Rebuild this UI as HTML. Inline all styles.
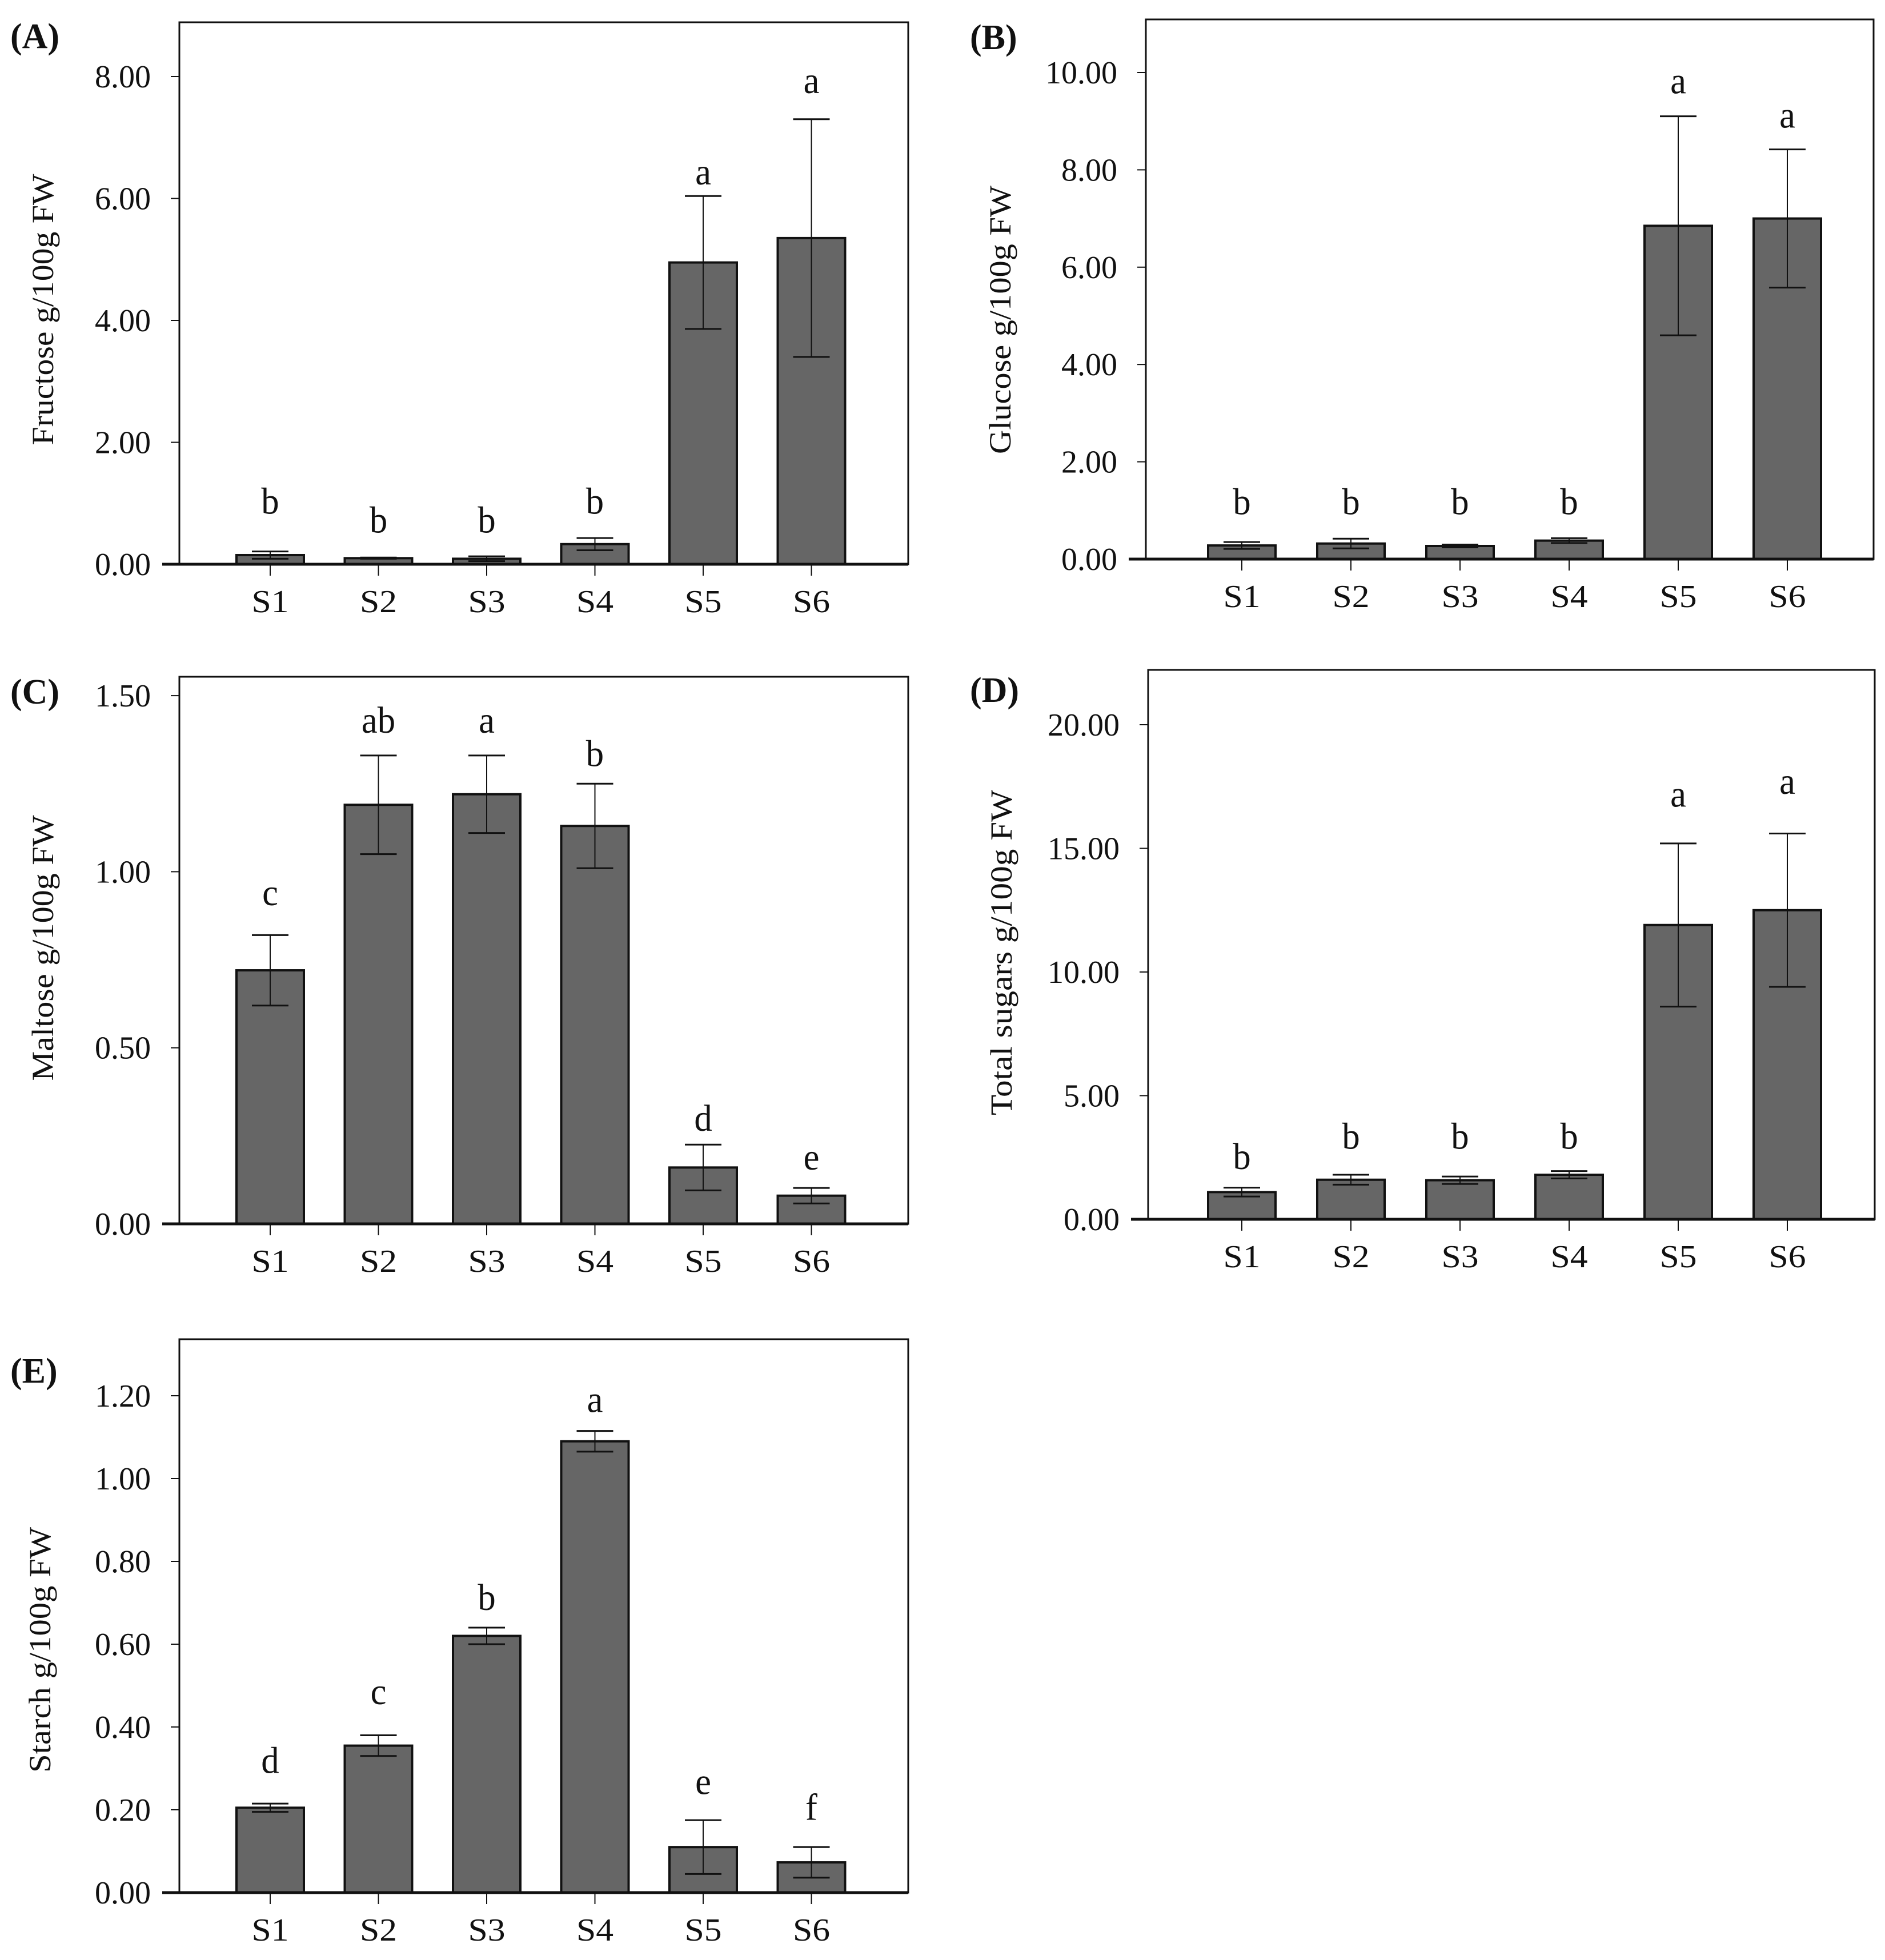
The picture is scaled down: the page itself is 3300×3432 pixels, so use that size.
<!DOCTYPE html>
<html><head><meta charset="utf-8"><style>
html,body{margin:0;padding:0;background:#fff;}
svg{display:block;}
text{font-family:"Liberation Serif","Times New Roman",serif;fill:#111;}
</style></head><body>
<svg id="fig" width="3300" height="3432" viewBox="0 0 3300 3432" xmlns="http://www.w3.org/2000/svg"></svg>
<script>
const categories = ["S1","S2","S3","S4","S5","S6"];

const fructoseVals = [0.15,0.10,0.09,0.33,4.95,5.35];
const fructoseErr  = [0.06,0.01,0.04,0.10,1.09,1.95];
const fructoseLet  = ["b","b","b","b","a","a"];
const fructoseLetY = [0.83,0.52,0.52,0.83,6.23,7.73];
const fructoseTicks = [0,2,4,6,8];

const glucoseVals = [0.28,0.32,0.27,0.38,6.85,7.00];
const glucoseErr  = [0.07,0.10,0.03,0.05,2.25,1.42];
const glucoseLet  = ["b","b","b","b","a","a"];
const glucoseLetY = [0.92,0.92,0.92,0.92,9.57,8.87];
const glucoseTicks = [0,2,4,6,8,10];

const maltoseVals = [0.72,1.19,1.22,1.13,0.16,0.08];
const maltoseErr  = [0.10,0.14,0.11,0.12,0.065,0.022];
const maltoseLet  = ["c","ab","a","b","d","e"];
const maltoseLetY = [0.905,1.395,1.395,1.30,0.264,0.154];
const maltoseTicks = [0,0.5,1.0,1.5];

const totalVals = [1.10,1.60,1.58,1.80,11.9,12.5];
const totalErr  = [0.18,0.20,0.15,0.15,3.3,3.1];
const totalLet  = ["b","b","b","b","a","a"];
const totalLetY = [2.03,2.85,2.85,2.85,16.68,17.2];
const totalTicks = [0,5,10,15,20];

const starchVals = [0.205,0.355,0.62,1.09,0.11,0.073];
const starchErr  = [0.010,0.025,0.020,0.025,0.065,0.037];
const starchLet  = ["d","c","b","a","e","f"];
const starchLetY = [0.289,0.455,0.683,1.161,0.238,0.176];
const starchTicks = [0,0.2,0.4,0.6,0.8,1.0,1.2];

const NS="http://www.w3.org/2000/svg";
const svg=document.getElementById('fig');
function mk(tag,attrs,parent){const e=document.createElementNS(NS,tag);for(const k in attrs)e.setAttribute(k,attrs[k]);(parent||svg).appendChild(e);return e;}
function sx(x,s){return 'translate('+x+',0) scale('+s+',1) translate('+(-x)+',0)';}

function panel(p){
  const g=mk('g',{});
  
  
  const y=v=>p.axisY-v/p.tickVal*p.tickPx;
  const x=i=>p.x0+i*p.step;
  const fr=mk('rect',{x:p.left,y:p.top,width:p.right-p.left,height:p.axisY-p.top,fill:'none',stroke:'#111','stroke-width':3},g);
  
  
  p.vals.forEach((v,i)=>{
    const b=mk('rect',{x:x(i)-59,y:y(v),width:118,height:p.axisY-y(v),fill:'#666',stroke:'#111','stroke-width':4},g);
    
    
    const e=p.err[i];
    const eg=mk('g',{stroke:'#111'},g);
    
    
    mk('line',{x1:x(i),x2:x(i),y1:y(v+e),y2:y(v-e),'stroke-width':2},eg);
    mk('line',{x1:x(i)-32,x2:x(i)+32,y1:y(v+e),y2:y(v+e),'stroke-width':3},eg);
    mk('line',{x1:x(i)-32,x2:x(i)+32,y1:y(v-e),y2:y(v-e),'stroke-width':3},eg);
    const t=mk('text',{x:x(i),y:y(p.letY[i]),'text-anchor':'middle','font-size':66,transform:sx(x(i),0.95)},g);
    t.textContent=p.lets[i];
    
    
    mk('line',{x1:x(i),x2:x(i),y1:p.axisY,y2:p.axisY+20,stroke:'#111','stroke-width':2},g);
    const xl=mk('text',{x:x(i),y:p.axisY+84,'text-anchor':'middle','font-size':56,transform:sx(x(i),1.1)},g);
    xl.textContent=categories[i];
    
    
  });
  const ax=mk('line',{x1:p.left-30,x2:p.right,y1:p.axisY,y2:p.axisY,stroke:'#111','stroke-width':5},g);
  
  
  p.ticks.forEach(tv=>{
    mk('line',{x1:p.left-15,x2:p.left,y1:y(tv),y2:y(tv),stroke:'#111','stroke-width':2},g);
    const lx=p.left-50;
    const t=mk('text',{x:lx,y:y(tv)+19,'text-anchor':'end','font-size':56,transform:sx(lx,1.0)},g);
    t.textContent=tv.toFixed(2);
    
    
  });
  const yt=mk('text',{x:0,y:0,'text-anchor':'middle','font-size':54,textLength:p.titleLen,lengthAdjust:'spacingAndGlyphs',transform:'translate('+(p.titleX+18)+','+p.titleY+') rotate(-90)'},g);
  yt.textContent=p.title;
  
  
  const pl=mk('text',{x:p.labX,y:p.labY,'font-size':62,'font-weight':'bold'},g);
  pl.textContent='('+p.id.toUpperCase()+')';
  
  
}

panel({id:'a',left:314,right:1590,top:39,axisY:988,tickVal:2,tickPx:213.5,x0:473,step:189.5,
  vals:fructoseVals,err:fructoseErr,lets:fructoseLet,letY:fructoseLetY,ticks:fructoseTicks,
  title:'Fructose g/100g FW',titleX:75,titleY:542,titleLen:475,labX:18,labY:84});
panel({id:'b',left:2006,right:3280,top:34,axisY:979,tickVal:2,tickPx:170.4,x0:2174,step:191,
  vals:glucoseVals,err:glucoseErr,lets:glucoseLet,letY:glucoseLetY,ticks:glucoseTicks,
  title:'Glucose g/100g FW',titleX:1751,titleY:560,titleLen:470,labX:1698,labY:86});
panel({id:'c',left:314,right:1590,top:1185,axisY:2143,tickVal:0.5,tickPx:308.3,x0:473,step:189.5,
  vals:maltoseVals,err:maltoseErr,lets:maltoseLet,letY:maltoseLetY,ticks:maltoseTicks,
  title:'Maltose g/100g FW',titleX:75,titleY:1660,titleLen:465,labX:18,labY:1232});
panel({id:'d',left:2010,right:3282,top:1173,axisY:2135,tickVal:5,tickPx:216.5,x0:2174,step:191,
  vals:totalVals,err:totalErr,lets:totalLet,letY:totalLetY,ticks:totalTicks,
  title:'Total sugars g/100g FW',titleX:1753,titleY:1668,titleLen:570,labX:1698,labY:1229});
panel({id:'e',left:314,right:1590,top:2345,axisY:3314,tickVal:0.2,tickPx:145,x0:473,step:189.5,
  vals:starchVals,err:starchErr,lets:starchLet,letY:starchLetY,ticks:starchTicks,
  title:'Starch g/100g FW',titleX:70,titleY:2889,titleLen:430,labX:18,labY:2421});
</script>
</body></html>
